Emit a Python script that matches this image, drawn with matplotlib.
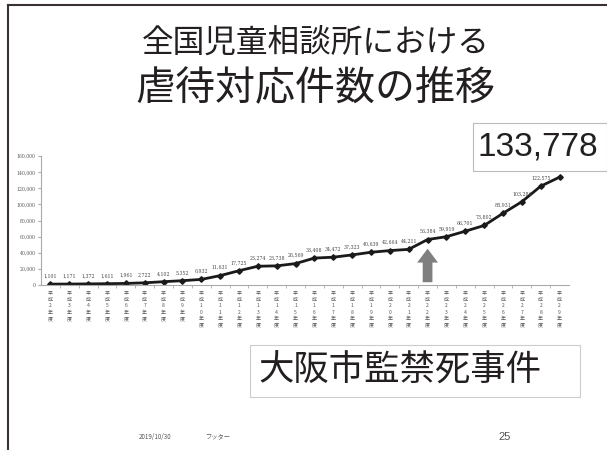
import matplotlib
matplotlib.use('Agg')
import matplotlib.pyplot as plt
from matplotlib.lines import Line2D
from matplotlib.patches import Rectangle

plt.rcParams['font.family'] = ['Noto Sans CJK JP', 'DejaVu Sans']

# 平成2年度 .. 平成29年度
years = list(range(2, 30))
counts = [1101, 1171, 1372, 1611, 1961, 2722, 4102, 5352, 6932, 11631,
          17725, 23274, 23738, 26569, 33408, 34472, 37323, 40639, 42664,
          44211, 56384, 59919, 66701, 73802, 88931, 103286, 122575, 133778]
yticks = list(range(0, 160001, 20000))
event_year = 22  # 大阪市監禁死事件

labels = ['\n'.join('平成' + str(y) + '年度') for y in years]
xs = list(range(len(years)))

fig = plt.figure(figsize=(6.07, 4.5), dpi=100)

# slide frame
fig.add_artist(Line2D([8 / 607, 1], [1 - 5 / 450, 1 - 5 / 450], color='#3a3232', lw=1.5))
fig.add_artist(Line2D([8 / 607, 8 / 607], [0, 1 - 5 / 450], color='#3a3232', lw=1.5))

fig.text(0.52, 0.905, '全国児童相談所における', ha='center', va='center',
         fontsize=22.8, color='#231f20')
fig.text(0.52, 0.805, '虐待対応件数の推移', ha='center', va='center',
         fontsize=28.8, color='#231f20')

ax = fig.add_axes([41 / 607, 165 / 450, 528 / 607, 129 / 450])
ax.plot(xs, counts, color='#1a1a1a', lw=2, marker='D', markersize=2.8)
for x, v in zip(xs[:-1], counts[:-1]):
    ax.annotate(f'{v:,}', (x, v), xytext=(0, 4), textcoords='offset points',
                ha='center', va='bottom', fontsize=3.4, color='#444444',
                family='DejaVu Serif')

ax.set_xlim(-0.5, len(xs) - 0.5)
ax.set_ylim(0, 160000)
ax.set_yticks(yticks)
ax.set_yticklabels([f'{t:,}' for t in yticks], fontsize=3.3, color='#555555',
                   family='DejaVu Serif')
ax.set_xticks(xs)
ax.set_xticklabels(labels, fontsize=3.6, color='#555555', linespacing=1.35, va='top')
ax.set_xticks([x + 0.5 for x in xs[:-1]], minor=True)
ax.tick_params(axis='x', which='major', length=0, pad=4)
ax.tick_params(axis='x', which='minor', length=2, color='#aaaaaa')
ax.tick_params(axis='y', length=2, color='#aaaaaa', pad=2)
for s in ['top', 'right']:
    ax.spines[s].set_visible(False)
for s in ['left', 'bottom']:
    ax.spines[s].set_color('#aaaaaa')
    ax.spines[s].set_linewidth(0.8)

ei = years.index(event_year)
ax.annotate('', xy=(ei, counts[ei] * 0.86), xytext=(ei, 0),
            arrowprops=dict(arrowstyle='simple,head_width=1.5,head_length=1.0,tail_width=0.7',
                            color='#7f7f7f', lw=0), annotation_clip=False)

# callout boxes
fig.add_artist(Rectangle((473 / 607, 279 / 450), 134 / 607, 48 / 450,
                         transform=fig.transFigure, fill=False, ec='#bbbbbb', lw=0.8))
fig.text(538 / 607, 303 / 450, f'{counts[-1]:,}', ha='center', va='center',
         fontsize=24, color='#231f20', family='Liberation Sans')

fig.add_artist(Rectangle((250 / 607, 53 / 450), 330 / 607, 52 / 450,
                         transform=fig.transFigure, fill=False, ec='#cccccc', lw=0.8))
fig.text(400 / 607, 79 / 450, '大阪市監禁死事件', ha='center', va='center',
         fontsize=25.5, color='#231f20')

# footer
fig.text(155 / 607, 13 / 450, '2019/10/30', ha='center', va='center',
         fontsize=4.5, color='#555555')
fig.text(218 / 607, 13 / 450, 'フッター', ha='center', va='center',
         fontsize=4.5, color='#555555')
fig.text(505 / 607, 13 / 450, '25', ha='center', va='center',
         fontsize=8, color='#555555', family='Liberation Sans')

fig.savefig('out.png', dpi=100)
